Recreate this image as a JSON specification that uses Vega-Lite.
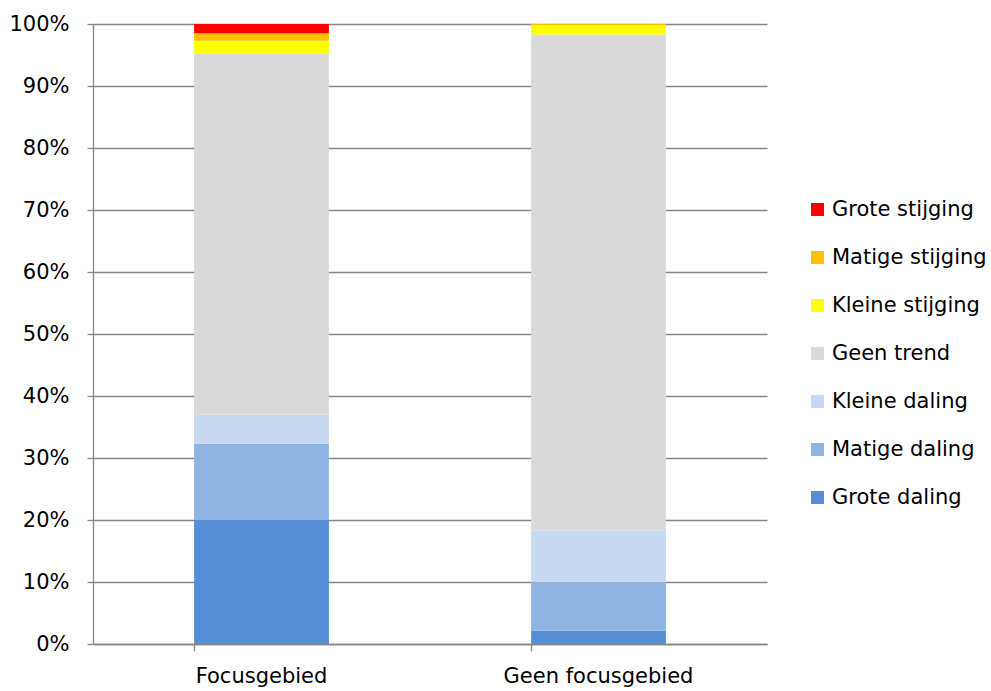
{
  "$schema": "https://vega.github.io/schema/vega-lite/v6.json",
  "width": 674,
  "height": 620,
  "autosize": "none",
  "padding": {"left": 93, "top": 24, "right": 224, "bottom": 47},
  "background": "white",
  "config": {
    "font": "DejaVu Sans",
    "view": {"stroke": null},
    "axis": {"labelFont": "DejaVu Sans", "labelFontSize": 21, "labelColor": "#000000", "domainColor": "#868686", "tickColor": "#868686", "gridColor": "#868686", "domainWidth": 1.3, "tickWidth": 1.3}
  },
  "data": {
    "values": [
      {"gebied": "Focusgebied", "trend": "Grote daling", "k": 1, "pct": 20.0},
      {"gebied": "Focusgebied", "trend": "Matige daling", "k": 2, "pct": 12.3},
      {"gebied": "Focusgebied", "trend": "Kleine daling", "k": 3, "pct": 4.7},
      {"gebied": "Focusgebied", "trend": "Geen trend", "k": 4, "pct": 58.2},
      {"gebied": "Focusgebied", "trend": "Kleine stijging", "k": 5, "pct": 2.1},
      {"gebied": "Focusgebied", "trend": "Matige stijging", "k": 6, "pct": 1.2},
      {"gebied": "Focusgebied", "trend": "Grote stijging", "k": 7, "pct": 1.5},
      {"gebied": "Geen focusgebied", "trend": "Grote daling", "k": 1, "pct": 2.15},
      {"gebied": "Geen focusgebied", "trend": "Matige daling", "k": 2, "pct": 7.9},
      {"gebied": "Geen focusgebied", "trend": "Kleine daling", "k": 3, "pct": 8.25},
      {"gebied": "Geen focusgebied", "trend": "Geen trend", "k": 4, "pct": 80.0},
      {"gebied": "Geen focusgebied", "trend": "Kleine stijging", "k": 5, "pct": 1.5},
      {"gebied": "Geen focusgebied", "trend": "Matige stijging", "k": 6, "pct": 0.2},
      {"gebied": "Geen focusgebied", "trend": "Grote stijging", "k": 7, "pct": 0.0}
    ]
  },
  "mark": {"type": "bar"},
  "encoding": {
    "x": {
      "field": "gebied", "type": "nominal", "title": null,
      "scale": {"paddingInner": 0.6, "paddingOuter": 0.3},
      "axis": {"labelAngle": 0, "bandPosition": 0, "tickSize": 7, "labelPadding": 14, "labelLimit": 0, "grid": false}
    },
    "y": {
      "field": "pct", "type": "quantitative", "stack": "normalize", "title": null,
      "scale": {"domain": [0, 1], "nice": false},
      "axis": {"format": "%", "values": [0, 0.1, 0.2, 0.3, 0.4, 0.5, 0.6, 0.7, 0.8, 0.9, 1], "labelOverlap": false, "tickSize": 6, "labelPadding": 18, "grid": true, "gridWidth": 1.3}
    },
    "order": {"field": "k", "type": "quantitative", "sort": "ascending"},
    "color": {
      "field": "trend", "type": "nominal",
      "scale": {
        "domain": ["Grote stijging", "Matige stijging", "Kleine stijging", "Geen trend", "Kleine daling", "Matige daling", "Grote daling"],
        "range": ["#FF0000", "#FFC000", "#FFFF00", "#D9D9D9", "#C6D9F1", "#8EB4E3", "#558ED5"]
      },
      "legend": {
        "title": null, "orient": "none", "legendX": 714, "legendY": 175,
        "symbolType": "square", "symbolSize": 169, "symbolStrokeWidth": 0,
        "labelFont": "DejaVu Sans", "labelFontSize": 21, "labelColor": "#000000", "labelLimit": 0,
        "rowPadding": 26, "labelOffset": 4
      }
    }
  }
}
